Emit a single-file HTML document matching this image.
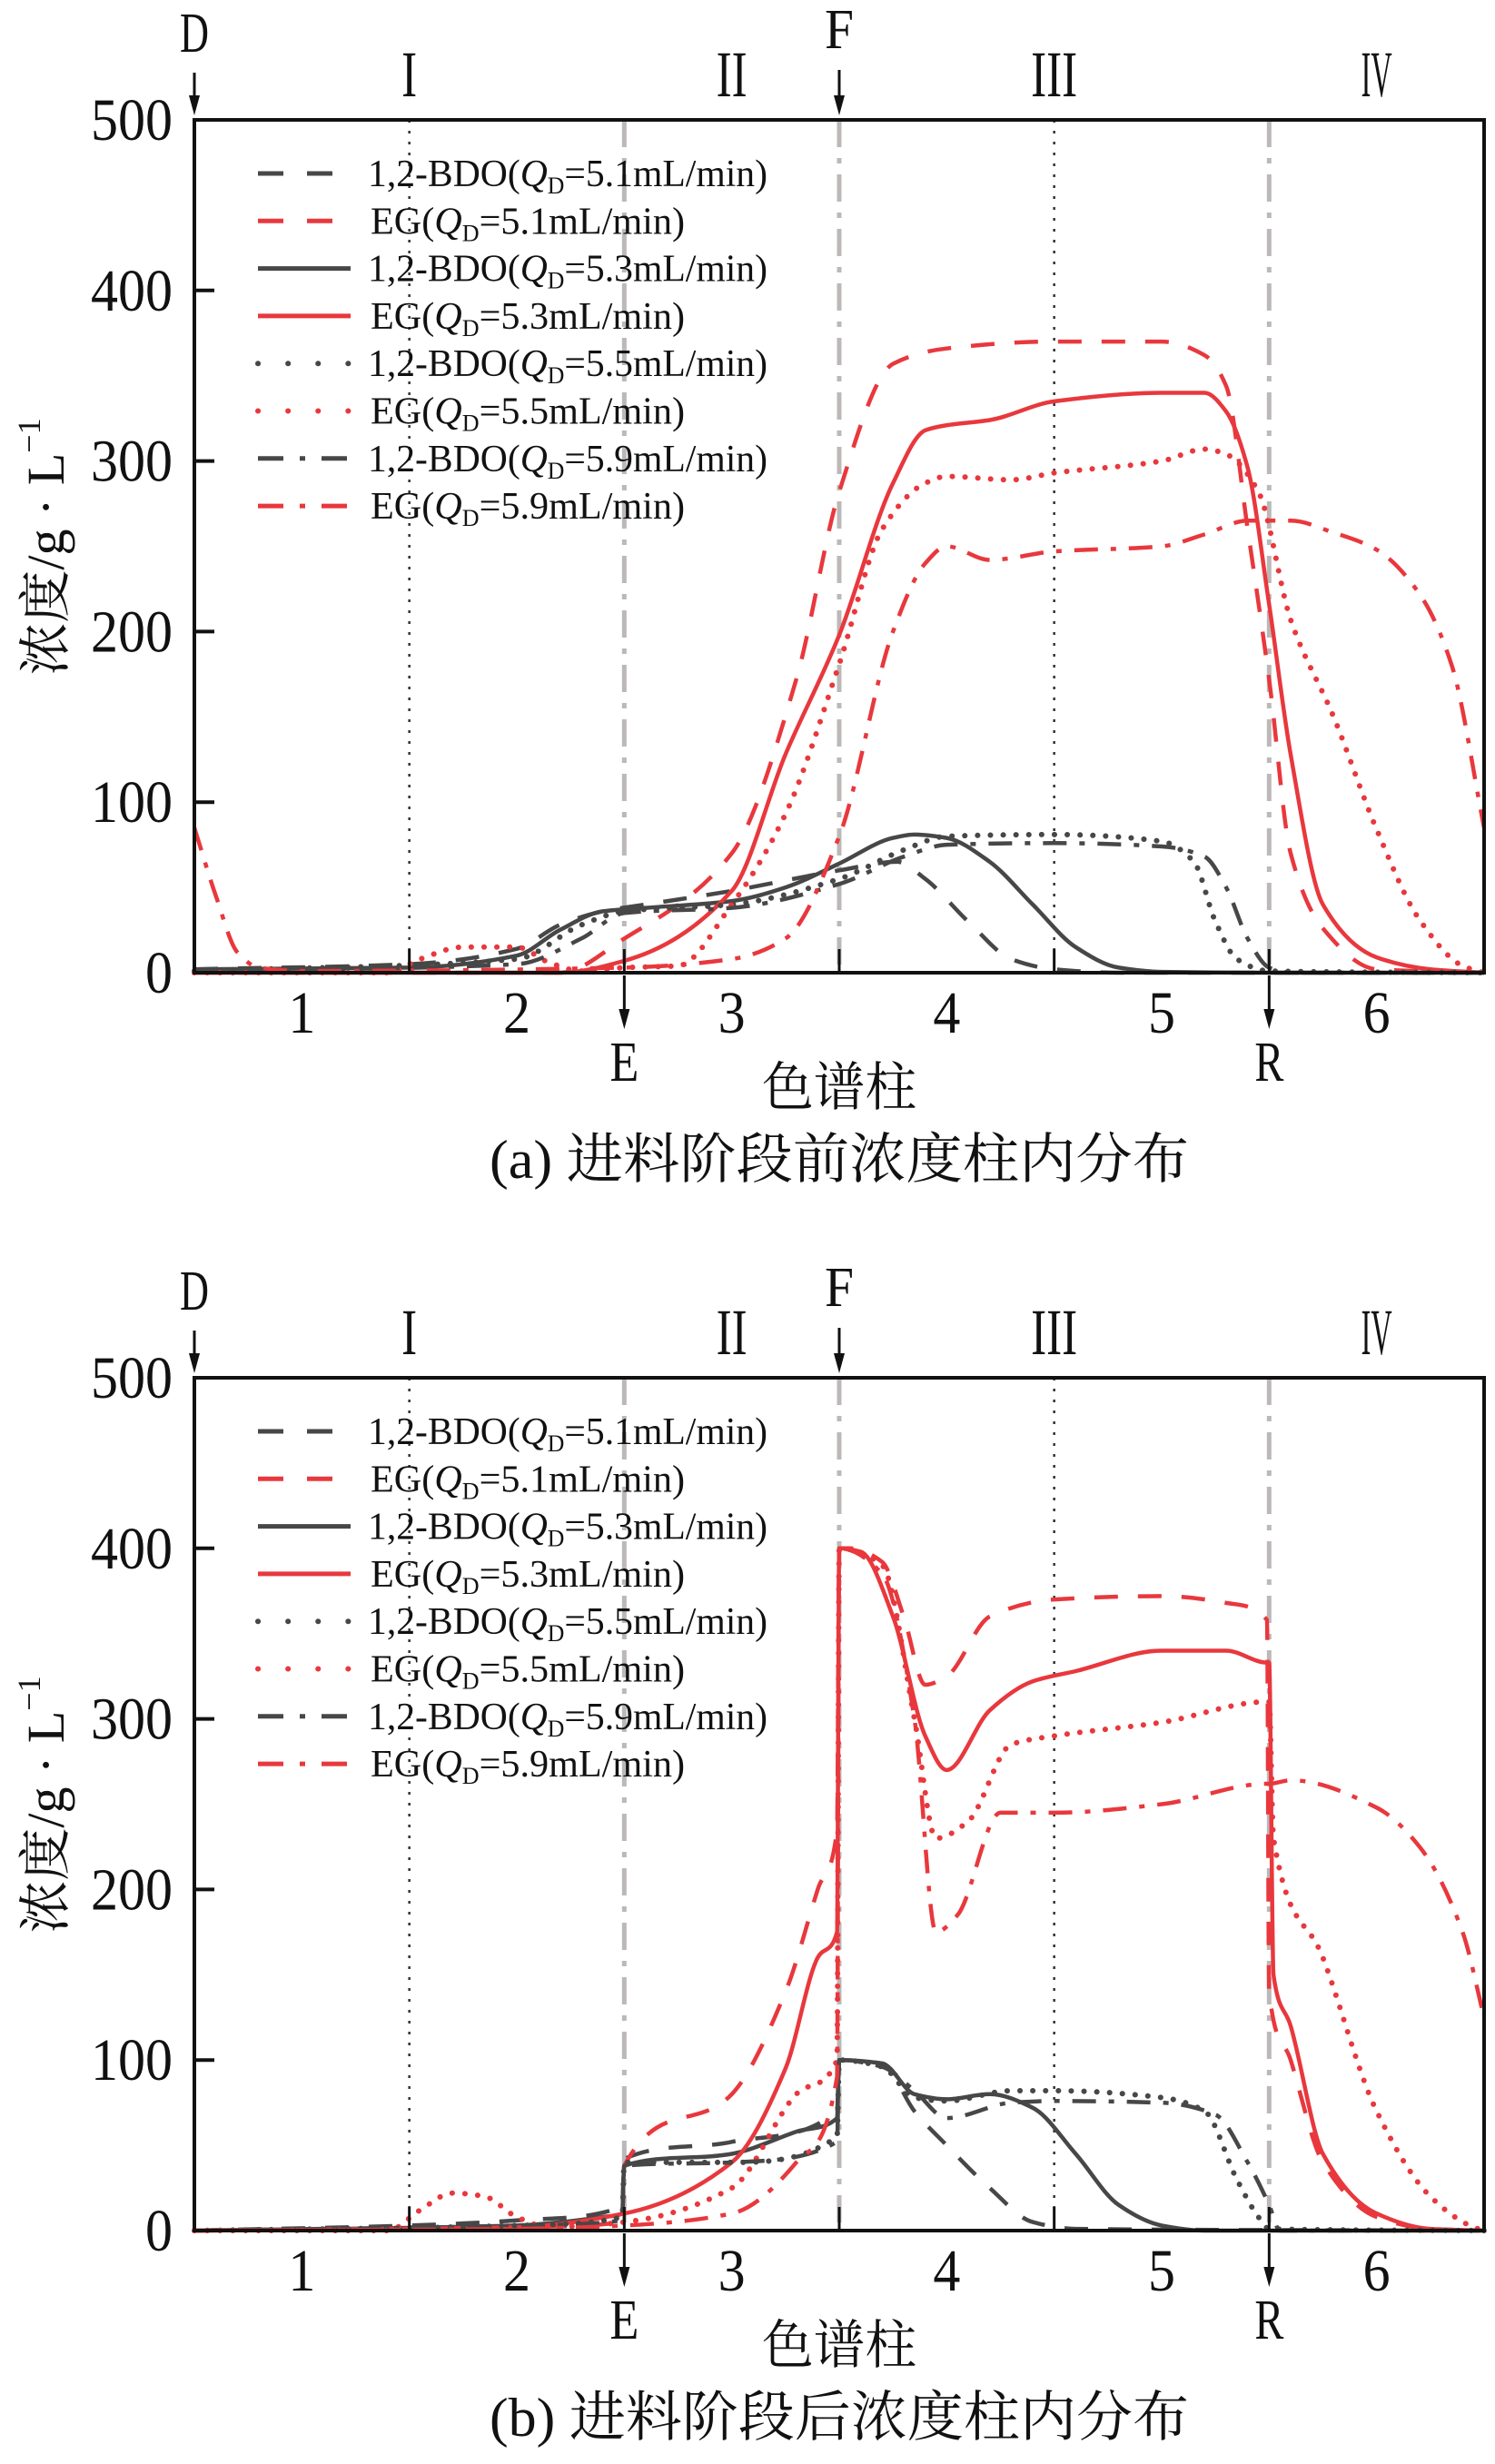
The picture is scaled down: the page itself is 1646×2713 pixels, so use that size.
<!DOCTYPE html>
<html><head><meta charset="utf-8"><style>
html,body{margin:0;padding:0;background:#fff;}
svg{display:block;}
text{font-family:"Liberation Serif","Noto Serif CJK SC","Noto Sans CJK SC",serif;fill:#111;}
</style></head><body>
<svg id="chart" width="1646" height="2713" viewBox="0 0 1646 2713" xmlns="http://www.w3.org/2000/svg"></svg>
<script>
// ---------- data: panel (a) ----------
const a_bdo51_x=[0.5,1.5,2.0,2.2,2.4,2.6,3.0,3.5,3.77,3.9,4.1,4.3,4.5,4.8,6.5];
const a_bdo51_y=[2,5,14,28,36,40,48,60,65,55,30,8,2,0,0];
const a_eg51_x=[0.5,2.2,2.5,3.0,3.3,3.5,3.75,4.0,4.5,5.0,5.2,5.3,5.4,5.5,5.6,5.75,6.0,6.5];
const a_eg51_y=[0,0,20,70,172,282,357,366,370,370,362,344,260,172,70,26,2,0];
const a_bdo53_x=[0.5,1.5,2.0,2.2,2.4,2.6,3.0,3.25,3.5,3.75,3.85,4.0,4.2,4.4,4.6,4.8,5.0,5.5,6.5];
const a_bdo53_y=[2,3,10,25,36,38,42,50,64,79,81,79,65,40,15,3,0.5,0,0];
const a_eg53_x=[0.5,2.2,2.5,3.0,3.25,3.5,3.75,3.9,4.0,4.2,4.5,5.0,5.2,5.3,5.4,5.5,5.6,5.75,6.0,6.25,6.5];
const a_eg53_y=[0,0,7,48,128,198,287,318,321,324,335,340,340,329,296,216,128,40,9,2,0];
const a_bdo55_x=[0.5,2.0,2.3,2.5,3.0,3.5,3.8,4.0,4.5,5.0,5.15,5.25,5.35,5.5,6.5];
const a_bdo55_y=[1,8,28,36,40,55,72,80,81,77,65,30,8,1,0];
const a_eg55_x=[0.5,1.4,1.55,1.75,2.0,2.15,2.3,2.5,2.75,3.0,3.25,3.5,3.7,3.9,4.0,4.3,4.5,5.0,5.2,5.3,5.45,5.6,5.8,6.0,6.2,6.4,6.5];
const a_eg55_y=[0,0,8,15,15,6,1,3,4,40,93,181,260,287,291,289,293,300,307,304,282,207,150,84,31,4,0];
const a_bdo59_x=[0.5,2.0,2.3,2.5,3.0,3.5,3.8,4.0,4.5,5.0,5.2,5.3,5.4,5.5,5.6,6.5];
const a_bdo59_y=[1,5,20,35,38,52,68,75,76,74,68,50,20,3,0,0];
const a_eg59_x=[0.5,0.6,0.7,0.8,1.0,2.5,3.0,3.25,3.5,3.75,3.9,4.0,4.2,4.5,5.0,5.2,5.4,5.6,5.8,6.0,6.2,6.35,6.5];
const a_eg59_y=[85,45,12,3,1,3,8,20,80,200,240,250,242,247,250,257,265,265,258,248,222,180,85];
// ---------- data: panel (b) ----------
const b_bdo51_x=[0.5,1.5,2.0,2.49,2.5,3.0,3.49,3.5,3.7,3.85,4.0,4.2,4.4,4.6,6.5];
const b_bdo51_y=[0,3,6,14,42,52,70,100,98,70,50,25,5,1,0];
const b_eg51_x=[0.5,2.0,2.49,2.5,3.0,3.25,3.4,3.49,3.5,3.55,3.7,3.8,3.9,4.0,4.2,4.5,5.0,5.3,5.49,5.5,5.6,5.75,6.0,6.25,6.5];
const b_eg51_y=[0,2,5,38,80,140,200,235,400,400,392,360,320,325,360,370,372,368,358,140,100,40,8,1,0];
const b_bdo53_x=[0.5,2.0,2.4,2.49,2.5,3.0,3.3,3.49,3.5,3.7,3.85,4.0,4.2,4.4,4.6,4.8,5.0,5.2,6.5];
const b_bdo53_y=[0,3,8,10,38,45,58,66,100,98,80,77,80,72,45,15,3,0,0];
const b_eg53_x=[0.5,2.0,2.5,3.0,3.25,3.4,3.49,3.5,3.6,3.75,3.9,4.0,4.2,4.4,4.6,5.0,5.3,5.49,5.5,5.52,5.6,5.75,6.0,6.25,6.5];
const b_eg53_y=[0,2,10,40,95,160,175,400,398,360,290,270,305,322,328,340,340,333,333,150,120,45,10,1,0];
const b_bdo55_x=[0.5,2.0,2.49,2.5,3.0,3.49,3.5,3.7,3.85,4.0,4.3,4.5,5.0,5.2,5.35,5.45,5.5,6.5];
const b_bdo55_y=[0,3,8,40,40,55,100,96,78,76,82,82,78,70,30,8,1,0];
const b_eg55_x=[0.5,1.4,1.55,1.7,1.85,2.0,2.15,2.5,3.0,3.3,3.49,3.5,3.7,3.85,3.95,4.1,4.3,4.5,5.0,5.49,5.5,5.52,5.75,6.0,6.25,6.45,6.5];
const b_eg55_y=[0,0,12,22,20,8,2,5,25,80,100,400,390,300,230,240,285,290,298,310,310,230,160,70,20,2,0];
const b_bdo59_x=[0.5,2.0,2.49,2.5,3.0,3.49,3.5,3.7,3.85,4.0,4.3,4.5,5.0,5.25,5.4,5.5,5.55,6.5];
const b_bdo59_y=[0,3,6,38,40,52,100,96,82,66,75,76,75,68,40,15,0,0];
const b_eg59_x=[0.5,2.0,2.5,3.0,3.3,3.49,3.5,3.7,3.85,3.95,4.05,4.25,4.5,5.0,5.49,5.5,5.6,6.0,6.2,6.4,6.5];
const b_eg59_y=[0,1,3,10,40,90,400,385,300,175,185,245,245,250,262,262,264,248,225,175,125];

const yTicks=[0,100,200,300,400,500];
const colLabels=["1","2","3","4","5","6"];
const zoneLabels=["I","II","III","IV"];
const zoneX=[1.5,3.0,4.5,6.0];
const legendNames=["1,2-BDO","EG","1,2-BDO","EG","1,2-BDO","EG","1,2-BDO","EG"];
const legendRates=["5.1","5.1","5.3","5.3","5.5","5.5","5.9","5.9"];

const NS="http://www.w3.org/2000/svg";
const svg=document.getElementById('chart');
const RED="#e8383d", DARK="#474747";
const DASH={dash:"26 22",solid:"",dot:"0.1 14",dashdot:"26 14 6 14"};
const L=214,R=1634,H=939;
function mk(tag,attrs,parent){const e=document.createElementNS(NS,tag);for(const k in attrs)e.setAttribute(k,attrs[k]);(parent||svg).appendChild(e);return e;}
function sx(v){return L+(v-0.5)/6*(R-L);}
// monotone cubic (Fritsch-Carlson) path in pixel space
function monoPath(X,Y){
  const n=X.length;if(n<2)return"";
  const d=[],m=[];
  for(let i=0;i<n-1;i++){const dx=X[i+1]-X[i];d.push(dx===0?0:(Y[i+1]-Y[i])/dx);}
  m[0]=d[0];m[n-1]=d[n-2];
  for(let i=1;i<n-1;i++){if(d[i-1]*d[i]<=0)m[i]=0;else{const w1=2*(X[i+1]-X[i])+(X[i]-X[i-1]),w2=(X[i+1]-X[i])+2*(X[i]-X[i-1]);m[i]=(w1+w2)/(w1/d[i-1]+w2/d[i]);}}
  let p="M"+X[0].toFixed(1)+","+Y[0].toFixed(1);
  for(let i=0;i<n-1;i++){const h=(X[i+1]-X[i])/3;
    p+=" C"+(X[i]+h).toFixed(1)+","+(Y[i]+m[i]*h).toFixed(1)+" "+(X[i+1]-h).toFixed(1)+","+(Y[i+1]-m[i+1]*h).toFixed(1)+" "+X[i+1].toFixed(1)+","+Y[i+1].toFixed(1);}
  return p;
}

function panel(top,key,series,caption){
  const bot=top+H;
  const sy=v=>bot-v/500*H;
  const g=mk('g',{});
  
  
  [1.5,4.5].forEach(c=>{const l=mk('line',{x1:sx(c),x2:sx(c),y1:top,y2:bot,stroke:"#333","stroke-width":2.5,"stroke-dasharray":"3 9"},g);
    });
  [2.5,3.5,5.5].forEach(c=>{const l=mk('line',{x1:sx(c),x2:sx(c),y1:top,y2:bot,stroke:"#bdb8b8","stroke-width":5,"stroke-dasharray":"30 12 6 12"},g);
    });
  series.forEach(s=>{
    const X=s.x.map(sx),Y=s.y.map(sy);
    const p=mk('path',{d:monoPath(X,Y),fill:"none",stroke:s.c,"stroke-width":4.5,"stroke-linejoin":"round","stroke-linecap":s.d==="dot"?"round":"butt"},g);
    if(DASH[s.d])p.setAttribute("stroke-dasharray",DASH[s.d]);
    if(s.d==="dot")p.setAttribute("stroke-width",6);
    
    
  });
  const b=mk('rect',{x:L,y:top,width:R-L,height:H,fill:"none",stroke:"#111","stroke-width":4},g);
  
  [1.5,2.5,3.5,4.5,5.5].forEach(c=>{mk('line',{x1:sx(c),x2:sx(c),y1:bot,y2:bot-26,stroke:"#111","stroke-width":3},g);});
  colLabels.forEach((t,i)=>{const e=mk('text',{x:sx(i+1),y:bot+66,"font-size":66,"text-anchor":"middle",textLength:30,lengthAdjust:"spacingAndGlyphs"},g);e.textContent=t;
    });
  yTicks.forEach(v=>{mk('line',{x1:L,x2:L+22,y1:sy(v),y2:sy(v),stroke:"#111","stroke-width":4},g);
    const e=mk('text',{x:190,y:sy(v)+22,"font-size":66,"text-anchor":"end",textLength:String(v).length*30,lengthAdjust:"spacingAndGlyphs"},g);e.textContent=v;
    });
  const yt=mk('text',{x:0,y:0,"font-size":58,"text-anchor":"middle",transform:`translate(70,${top+470}) rotate(-90)`},g);
  yt.innerHTML='浓度/g · L<tspan dy="-26" font-size="36">−1</tspan>';
  
  const xt=mk('text',{x:sx(3.5),y:bot+146,"font-size":58,"text-anchor":"middle",textLength:170,lengthAdjust:"spacingAndGlyphs"},g);xt.textContent="色谱柱";
  
  const cp=mk('text',{x:sx(3.5),y:bot+226,"font-size":60,"text-anchor":"middle",textLength:770,lengthAdjust:"spacingAndGlyphs"},g);cp.textContent=caption;
  
  zoneLabels.forEach((t,i)=>{const e=mk('text',{x:sx(zoneX[i]),y:top-26,"font-size":72,"text-anchor":"middle",textLength:t.length*17,lengthAdjust:"spacingAndGlyphs"},g);e.textContent=t;
    });
  function arrow(c,y1,y2,lbl,ly){
    mk('line',{x1:sx(c),x2:sx(c),y1:y1,y2:y2-(y2>y1?14:-14),stroke:"#111","stroke-width":3},g);
    const d=y2>y1?-1:1;
    mk('polygon',{points:`${sx(c)-6},${y2+d*22} ${sx(c)+6},${y2+d*22} ${sx(c)},${y2}`,fill:"#111"},g);
    const e=mk('text',{x:sx(c),y:ly,"font-size":62,"text-anchor":"middle",textLength:32,lengthAdjust:"spacingAndGlyphs"},g);e.textContent=lbl;
    
  }
  arrow(0.5,top-52,top-5,"D",top-75);
  arrow(3.5,top-55,top-5,"F",top-79);
  arrow(2.5,bot+3,bot+62,"E",bot+119);
  arrow(5.5,bot+3,bot+62,"R",bot+119);
  const styles=["dash","dash","solid","solid","dot","dot","dashdot","dashdot"];
  legendNames.forEach((n,i)=>{
    const y=top+59+i*52.3;const c=i%2?RED:DARK;
    const ln=mk('line',{x1:284,x2:386,y1:y,y2:y,stroke:c,"stroke-width":styles[i]==="dot"?6:5,"stroke-linecap":styles[i]==="dot"?"round":"butt"},g);
    if(DASH[styles[i]])ln.setAttribute("stroke-dasharray",styles[i]==="dash"?"28 26":styles[i]==="dot"?"0.1 33":"28 18 6 18");
    
    const t=mk('text',{x:n==="EG"?408:405,y:y+14,"font-size":42,textLength:n==="EG"?346:440,lengthAdjust:"spacingAndGlyphs"},g);
    t.innerHTML=`${n}(<tspan font-style="italic">Q</tspan><tspan font-size="26" dy="8">D</tspan><tspan dy="-8">=${legendRates[i]}mL/min)</tspan>`;
    
  });
}
panel(132,"a",[
 {n:"bdo-5.1-before",x:a_bdo51_x,y:a_bdo51_y,c:DARK,d:"dash"},
 {n:"eg-5.1-before",x:a_eg51_x,y:a_eg51_y,c:RED,d:"dash"},
 {n:"bdo-5.3-before",x:a_bdo53_x,y:a_bdo53_y,c:DARK,d:"solid"},
 {n:"eg-5.3-before",x:a_eg53_x,y:a_eg53_y,c:RED,d:"solid"},
 {n:"bdo-5.5-before",x:a_bdo55_x,y:a_bdo55_y,c:DARK,d:"dot"},
 {n:"eg-5.5-before",x:a_eg55_x,y:a_eg55_y,c:RED,d:"dot"},
 {n:"bdo-5.9-before",x:a_bdo59_x,y:a_bdo59_y,c:DARK,d:"dashdot"},
 {n:"eg-5.9-before",x:a_eg59_x,y:a_eg59_y,c:RED,d:"dashdot"}
],"(a) 进料阶段前浓度柱内分布");
panel(1517,"b",[
 {n:"bdo-5.1-after",x:b_bdo51_x,y:b_bdo51_y,c:DARK,d:"dash"},
 {n:"eg-5.1-after",x:b_eg51_x,y:b_eg51_y,c:RED,d:"dash"},
 {n:"bdo-5.3-after",x:b_bdo53_x,y:b_bdo53_y,c:DARK,d:"solid"},
 {n:"eg-5.3-after",x:b_eg53_x,y:b_eg53_y,c:RED,d:"solid"},
 {n:"bdo-5.5-after",x:b_bdo55_x,y:b_bdo55_y,c:DARK,d:"dot"},
 {n:"eg-5.5-after",x:b_eg55_x,y:b_eg55_y,c:RED,d:"dot"},
 {n:"bdo-5.9-after",x:b_bdo59_x,y:b_bdo59_y,c:DARK,d:"dashdot"},
 {n:"eg-5.9-after",x:b_eg59_x,y:b_eg59_y,c:RED,d:"dashdot"}
],"(b) 进料阶段后浓度柱内分布");
</script>
</body></html>
